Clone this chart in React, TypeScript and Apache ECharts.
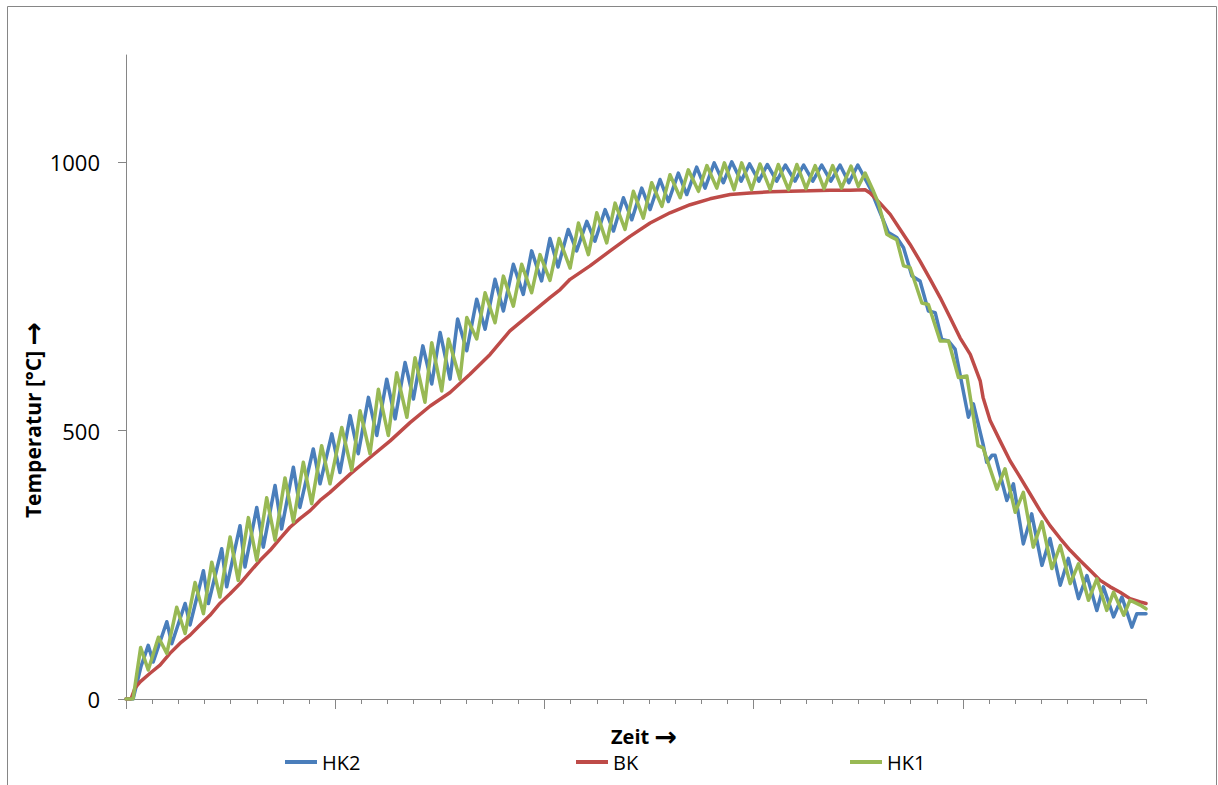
import React, { useEffect, useRef } from "react";
import * as echarts from "echarts";

// Time axis: 0..390 (one minor tick = 10 units), temperature in °C
const yTickValues = [0, 500, 1000];
const majorTickValues = [0, 80, 160, 240, 320];
const seriesNames = ["HK2", "BK", "HK1"];

const hk2: [number, number][] = [
  [0, 0], [2.7, 0], [5.7, 60], [8.5, 100], [10.4, 69], [15.6, 144], [17.5, 103], [22.6, 178], [24.5, 138],
  [29.6, 239], [31.5, 178], [36.6, 280], [38.5, 209], [43.6, 323], [45.5, 246], [50.0, 357], [52.5, 283],
  [57.0, 398], [59.5, 317], [64.0, 432], [66.5, 357], [71.6, 466], [74.2, 401], [78.7, 494], [81.8, 422],
  [85.7, 528], [88.8, 457], [92.7, 562], [95.9, 491], [99.7, 596], [102.9, 522], [106.7, 627], [109.9, 559],
  [113.5, 658], [116.9, 587], [120.1, 683], [123.9, 596], [126.8, 708], [130.3, 649], [134.1, 745], [137.3, 689],
  [141.1, 782], [144.3, 723], [148.1, 810], [151.9, 754], [155.1, 835], [158.9, 779], [162.1, 858], [165.2, 805],
  [169.1, 875], [172.3, 835], [176.2, 890], [179.3, 853], [183.2, 912], [186.4, 872], [190.2, 934], [193.4, 893],
  [197.2, 952], [200.4, 912], [204.2, 968], [207.4, 927], [211.2, 980], [214.4, 940], [218.2, 991], [221.4, 952],
  [224.9, 999], [228.4, 962], [231.6, 1001], [235.2, 965], [238.4, 997], [242.0, 965], [245.2, 996], [248.8, 965],
  [252.1, 995], [255.8, 965], [259.1, 995], [262.6, 965], [266.0, 995], [269.5, 965], [273.0, 995], [276.4, 962],
  [279.8, 995], [284.5, 952], [287.1, 921], [291.5, 869], [294.7, 860], [297.3, 841], [300.5, 788], [303.6, 779],
  [306.8, 723], [309.4, 720], [311.9, 670], [314.5, 667], [317.0, 652], [322.1, 525], [324.0, 550], [327.7, 475],
  [329.1, 441], [331.1, 454], [332.3, 454], [336.8, 370], [339.3, 401], [343.1, 289], [346.3, 345], [350.2, 249],
  [353.3, 299], [357.2, 212], [360.3, 262], [364.2, 187], [367.4, 230], [371.2, 165], [373.7, 209], [377.6, 153],
  [380.8, 190], [384.6, 134], [386.5, 159], [390, 159],
];

const bk: [number, number][] = [
  [0, 0], [1.9, 0], [3.4, 20], [5.4, 32], [9.2, 48], [13.0, 63], [16.8, 85], [20.7, 104], [24.5, 119], [28.3, 138],
  [32.1, 156], [35.9, 178], [39.8, 196], [43.6, 215], [47.4, 237], [51.2, 258], [55.1, 277], [58.9, 299],
  [62.7, 320], [66.5, 336], [70.4, 351], [74.2, 370], [78.0, 385], [85.7, 419], [93.3, 450], [101.0, 481],
  [108.6, 515], [116.3, 546], [123.9, 571], [131.5, 605], [139.2, 642], [146.8, 686], [154.5, 717], [162.1, 748],
  [166.0, 763], [169.8, 782], [177.4, 807], [185.1, 835], [192.7, 862], [200.4, 887], [208.0, 906], [215.7, 921],
  [223.3, 932], [231.0, 940], [238.6, 943], [246.3, 945], [253.9, 946], [261.6, 947], [269.2, 948], [276.9, 948],
  [282.6, 949], [284.5, 943], [288.3, 924], [292.2, 903], [296.0, 875], [299.8, 847], [303.6, 816], [307.5, 782],
  [311.3, 748], [315.1, 711], [318.9, 673], [322.8, 642], [326.6, 593], [327.7, 562], [330.4, 519], [334.2, 481],
  [338.0, 444], [341.9, 413], [345.7, 382], [349.5, 351], [353.3, 323], [357.2, 299], [361.0, 277], [364.8, 258],
  [368.6, 240], [372.5, 221], [376.3, 209], [380.1, 199], [383.9, 187], [387.8, 181], [390, 178],
];

const hk1: [number, number][] = [
  [0, 0], [2.7, 0], [5.6, 96], [8.5, 54], [12.4, 115], [15.6, 85], [19.4, 171], [22.6, 122], [26.4, 217],
  [29.6, 159], [32.8, 255], [35.9, 190], [39.8, 302], [42.9, 221], [46.8, 338], [50.0, 258], [53.8, 375],
  [57.0, 296], [60.8, 412], [64.0, 330], [67.8, 441], [71.0, 364], [74.8, 472], [78.0, 401], [82.5, 506],
  [86.3, 426], [89.5, 537], [93.3, 457], [96.5, 577], [100.3, 491], [103.5, 608], [107.4, 525], [110.5, 636],
  [114.3, 553], [116.9, 664], [120.7, 574], [123.3, 671], [127.7, 596], [130.3, 711], [134.1, 671], [137.3, 757],
  [141.1, 701], [144.3, 788], [148.1, 732], [151.3, 810], [155.1, 757], [158.3, 828], [162.1, 780], [165.6, 858],
  [169.8, 803], [173.0, 887], [176.8, 828], [180.0, 906], [183.8, 850], [187.0, 924], [190.8, 875], [194.0, 946],
  [197.8, 896], [201.0, 962], [204.9, 918], [208.0, 977], [211.9, 934], [215.0, 986], [218.9, 946], [222.1, 994],
  [225.9, 952], [228.8, 999], [232.5, 949], [235.4, 999], [239.2, 949], [242.4, 997], [246.3, 949], [249.4, 996],
  [253.3, 949], [256.5, 996], [260.0, 951], [263.5, 994], [266.9, 951], [270.2, 994], [273.6, 952], [277.2, 993],
  [280.0, 955], [282.6, 980], [285.8, 946], [287.7, 924], [290.9, 866], [292.2, 862], [294.7, 856], [297.3, 807],
  [299.8, 804], [304.3, 738], [306.8, 735], [311.3, 667], [314.5, 667], [318.3, 599], [321.5, 602], [325.8, 472],
  [327.7, 468], [333.0, 391], [336.1, 429], [340.0, 348], [343.1, 385], [346.9, 283], [350.2, 330], [354.0, 243],
  [357.2, 286], [361.0, 215], [364.2, 252], [368.0, 184], [371.2, 224], [375.0, 165], [377.6, 199], [381.5, 156],
  [383.9, 184], [387.8, 175], [390, 168],
];

const COLORS: Record<string, string> = { HK2: "#4A7EBB", BK: "#BE4B48", HK1: "#98B954" };
const FONT = '"Open Sans", "Noto Sans", sans-serif';
const ARROW_FONT = '"DejaVu Sans", sans-serif';
const AXIS_GRAY = "#868686";

export default function App() {
  const ref = useRef<HTMLDivElement>(null);

  useEffect(() => {
    if (!ref.current) return;
    const chart = echarts.init(ref.current, undefined, { renderer: "svg" });
    const dataMap: Record<string, [number, number][]> = { HK2: hk2, BK: bk, HK1: hk1 };
    const legendLefts: Record<string, number> = { HK2: 285, BK: 576, HK1: 850 };
    const xTitleRich = {
      t: { fontSize: 20, fontWeight: "bold", fontFamily: FONT, fill: "#000", lineHeight: 26 },
      a: { fontSize: 27, fontWeight: "bold", fontFamily: ARROW_FONT, fill: "#000", lineHeight: 26 },
    };
    const yTitleRich = {
      t: { fontSize: 21, fontWeight: "bold", fontFamily: FONT, fill: "#000", lineHeight: 27 },
      a: { fontSize: 28, fontWeight: "bold", fontFamily: ARROW_FONT, fill: "#000", lineHeight: 27 },
    };

    chart.setOption({
      animation: false,
      backgroundColor: "#ffffff",
      grid: { left: 126, right: 72, top: 55, bottom: 86, containLabel: false },
      xAxis: [
        {
          type: "value",
          min: 0,
          max: 390,
          interval: 10,
          axisLine: { show: true, lineStyle: { color: AXIS_GRAY, width: 1 } },
          axisTick: { show: true, length: 5, lineStyle: { color: AXIS_GRAY } },
          axisLabel: { show: false },
          splitLine: { show: false },
        },
        {
          type: "value",
          min: 0,
          max: 390,
          interval: 80,
          position: "bottom",
          axisLine: { show: false },
          axisTick: { show: true, length: 10, customValues: majorTickValues, lineStyle: { color: AXIS_GRAY } },
          axisLabel: { show: false },
          splitLine: { show: false },
        },
      ],
      yAxis: {
        type: "value",
        min: 0,
        max: 1200,
        interval: 500,
        axisLine: { show: true, lineStyle: { color: AXIS_GRAY, width: 1 } },
        axisTick: { show: true, length: 8, customValues: yTickValues, lineStyle: { color: AXIS_GRAY } },
        axisLabel: {
          show: true,
          customValues: yTickValues,
          formatter: (v: number) => String(v),
          margin: 26,
          color: "#000",
          fontSize: 22,
          fontFamily: FONT,
        },
        splitLine: { show: false },
      },
      legend: seriesNames.map((n) => ({
        data: [n],
        left: legendLefts[n],
        top: 751,
        padding: 0,
        icon: "rect",
        itemWidth: 32,
        itemHeight: 4,
        textStyle: { fontSize: 20, fontFamily: FONT, color: "#000", lineHeight: 22 },
      })),
      graphic: [
        {
          type: "rect",
          shape: { x: 7.5, y: 6.5, width: 1209, height: 820 },
          style: { fill: "none", stroke: AXIS_GRAY, lineWidth: 1 },
          silent: true,
        },
        {
          type: "text",
          x: 644,
          y: 736,
          style: {
            text: "{t|Zeit }{a|→}",
            rich: xTitleRich,
            align: "center",
            verticalAlign: "middle",
          },
        },
        {
          type: "text",
          x: 33,
          y: 420,
          rotation: Math.PI / 2,
          style: {
            text: "{t|Temperatur [°C] }{a|→}",
            rich: yTitleRich,
            align: "center",
            verticalAlign: "middle",
          },
        },
      ],
      series: seriesNames.map((n) => ({
        name: n,
        type: "line",
        xAxisIndex: 0,
        data: dataMap[n],
        showSymbol: false,
        symbol: "none",
        color: COLORS[n],
        lineStyle: { width: 3.5, color: COLORS[n], cap: "round", join: "round" },
        emphasis: { disabled: true },
      })),
    });

    return () => chart.dispose();
  }, []);

  return (
    <div
      ref={ref}
      style={{ position: "fixed", left: 0, top: 0, width: 1218, height: 785, background: "#fff" }}
    />
  );
}
